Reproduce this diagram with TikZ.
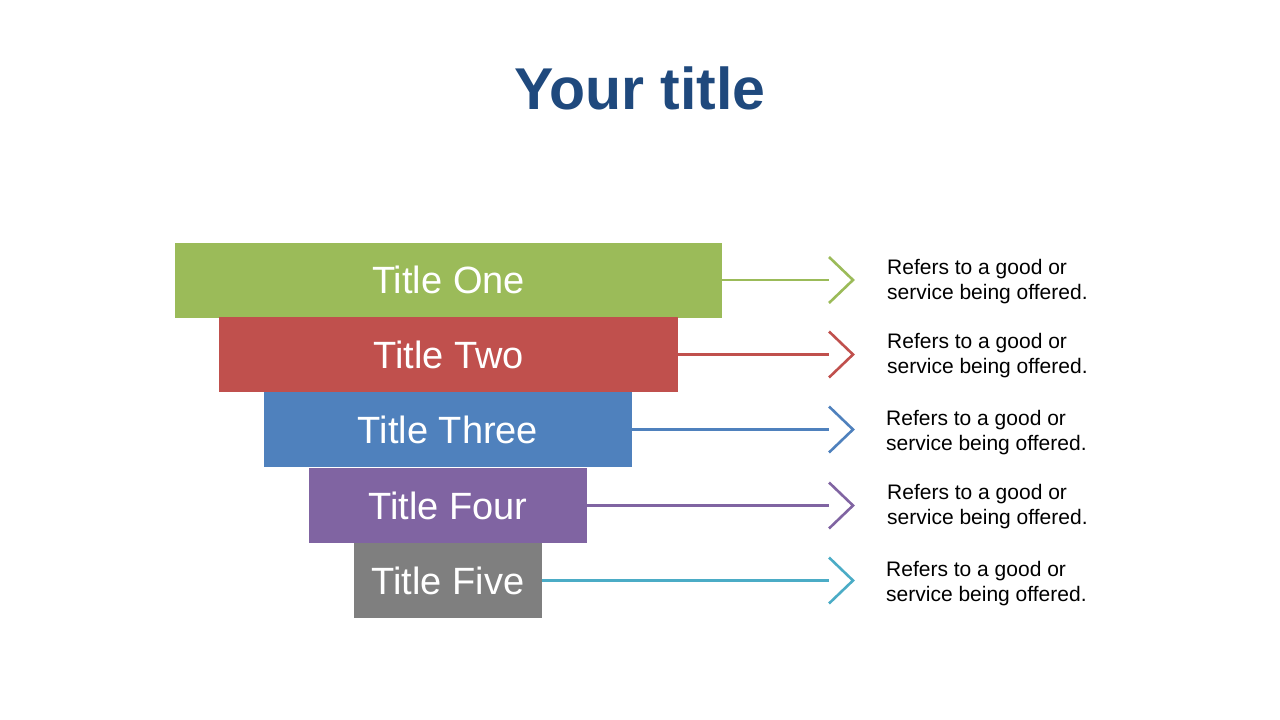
\documentclass[tikz,border=0pt]{standalone}
\usepackage{fontspec}
\setmainfont{Liberation Sans}
\definecolor{titleBlue}{HTML}{1F497D}
\definecolor{barGreen}{HTML}{9BBB59}
\definecolor{barRed}{HTML}{C0504D}
\definecolor{barBlue}{HTML}{4F81BD}
\definecolor{barPurple}{HTML}{8064A2}
\definecolor{barGray}{HTML}{7F7F7F}
\definecolor{lineCyan}{HTML}{4BACC6}
\tikzset{
  bar/.style={inner sep=0pt, minimum height=75pt, text=white,
              font=\fontsize{38}{42}\selectfont},
  link/.style={line width=2.6pt},
  head/.style={line width=2.6pt, line join=miter},
  desc/.style={anchor=west, align=left, inner sep=0pt,
               font=\fontsize{21}{25}\selectfont}
}
\begin{document}
\begin{tikzpicture}[x=1pt, y=-1pt]
        \useasboundingbox (0,0) rectangle (1280,720);                       %
        \node [font=\fontsize{59}{64}\selectfont\bfseries, text=titleBlue]
              (title) at (640,88) {Your title};                             %title
        \node [bar, fill=barGreen,  minimum width=547pt] (one)   at (448.5,280) {Title One};   %1
        \node [bar, fill=barRed,    minimum width=459pt] (two)   at (448.5,354.5) {Title Two}; %2
        \node [bar, fill=barBlue,   minimum width=368pt] (three) at (448,429.5) {Title Three}; %3
        \node [bar, fill=barPurple, minimum width=278pt] (four)  at (448,505.5) {Title Four};  %4
        \node [bar, fill=barGray,   minimum width=188pt] (five)  at (448,580.5) {Title Five};  %5
        \coordinate (headOne)   at (829,280);                                %
        \coordinate (headTwo)   at (829,354.5);                              %
        \coordinate (headThree) at (829,429.5);                              %
        \coordinate (headFour)  at (829,505.5);                              %
        \coordinate (headFive)  at (829,580.5);                              %
        \draw [link, barGreen]  (one.east)   -- (headOne);                   %
        \draw [head, barGreen]  (headOne)   ++(0,-23) -- ++(24,23) -- ++(-24,23);
        \draw [link, barRed]    (two.east)   -- (headTwo);                   %
        \draw [head, barRed]    (headTwo)   ++(0,-23) -- ++(24,23) -- ++(-24,23);
        \draw [link, barBlue]   (three.east) -- (headThree);                 %
        \draw [head, barBlue]   (headThree) ++(0,-23) -- ++(24,23) -- ++(-24,23);
        \draw [link, barPurple] (four.east)  -- (headFour);                  %
        \draw [head, barPurple] (headFour)  ++(0,-23) -- ++(24,23) -- ++(-24,23);
        \draw [link, lineCyan]  (five.east)  -- (headFive);                  %
        \draw [head, lineCyan]  (headFive)  ++(0,-23) -- ++(24,23) -- ++(-24,23);
        \node [desc] (descOne)   at (887,282) {Refers to a good or\\service being offered.};
        \node [desc] (descTwo)   at (887,356) {Refers to a good or\\service being offered.};
        \node [desc] (descThree) at (886,433) {Refers to a good or\\service being offered.};
        \node [desc] (descFour)  at (887,507) {Refers to a good or\\service being offered.};
        \node [desc] (descFive)  at (886,584) {Refers to a good or\\service being offered.};
       \end{tikzpicture}
\end{document}
